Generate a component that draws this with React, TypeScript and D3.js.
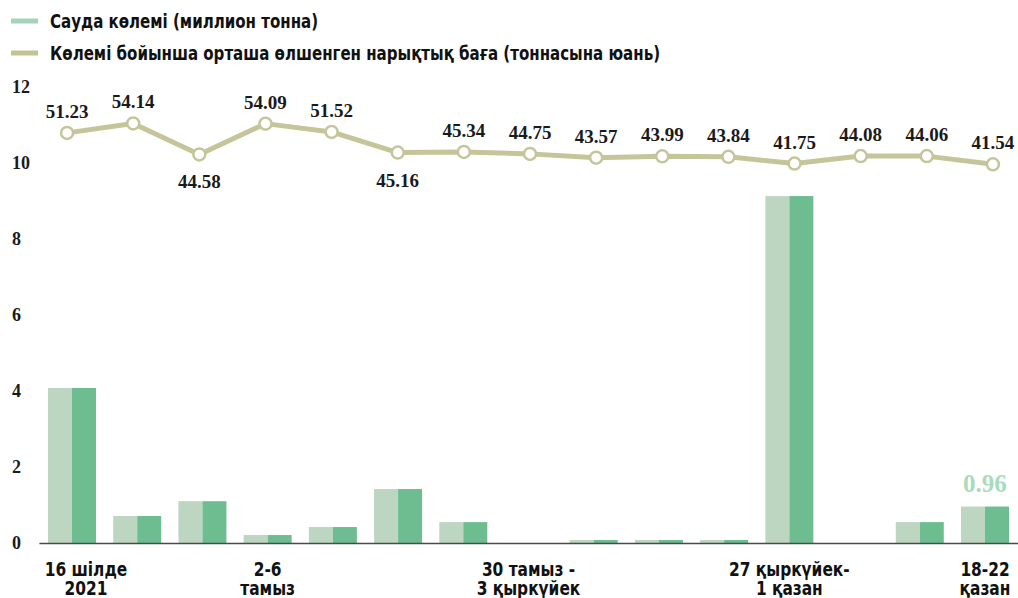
import { useRef, useEffect } from "react";
import * as d3 from "d3";

const weekLabels: string[][] = [
  ["16 шілде", "2021"], [], [], ["2-6", "тамыз"], [], [], [],
  ["30 тамыз -", "3 қыркүйек"], [], [], [], ["27 қыркүйек-", "1 қазан"], [], [], ["18-22", "қазан"],
];
const volume = [4.08, 0.71, 1.1, 0.21, 0.42, 1.42, 0.55, 0, 0.08, 0.08, 0.08, 9.13, 0, 0.55, 0.96];
const price = [51.23, 54.14, 44.58, 54.09, 51.52, 45.16, 45.34, 44.75, 43.57, 43.99, 43.84, 41.75, 44.08, 44.06, 41.54];
const priceBelow = [2, 5];
const yTicks = [0, 2, 4, 6, 8, 10, 12];
const legendItems = [
  { label: "Сауда көлемі (миллион тонна)", color: "#a3d4b8" },
  { label: "Көлемі бойынша орташа өлшенген нарықтық баға (тоннасына юань)", color: "#c2c48f" },
];

const SANS = "'Liberation Sans Narrow', 'DejaVu Sans Condensed', Roboto, sans-serif";
const SERIF = "'Liberation Serif', 'DejaVu Serif', serif";

// squeeze a sans text to mimic the condensed face of the original
function condense(sel: d3.Selection<SVGTextElement | SVGTSpanElement, any, any, any>, k: number) {
  sel.each(function () {
    const w = (this as SVGTextContentElement).getComputedTextLength();
    d3.select(this).attr("textLength", w * k).attr("lengthAdjust", "spacingAndGlyphs");
  });
}

export default function App() {
  const ref = useRef<SVGSVGElement>(null);

  useEffect(() => {
    if (!ref.current) return;
    const svg = d3.select(ref.current); svg.selectAll("*").remove();
    const W = 1018, H = 598;
    const top = 87, bottom = 543, left = 39.4, right = 1017.6;
    svg.attr("width", W).attr("height", H);
    const idx = volume.map((_d, i) => i);
    const x = d3.scalePoint<number>().domain(idx).range([left, right]).padding(0.5);
    const xl = d3.scalePoint<number>().domain(idx).range([34, 1026]).padding(0.5);
    const bw = x.step() * 0.736;
    const y = d3.scaleLinear().domain([0, 12]).range([bottom, top]);
    const y2 = d3.scaleLinear().domain([-75.4, 65.4]).range([bottom, top]);

    // y tick labels
    svg.selectAll(".yt").data(yTicks).join("text")
      .attr("x", 12).attr("y", d => y(d)).attr("dy", "0.35em")
      .attr("fill", "#1a1a1a").attr("font-size", "18px").attr("font-weight", 700).attr("font-family", SERIF)
      .text(d => d);

    // bars: two shades per week
    svg.selectAll(".bl").data(idx).join("rect")
      .attr("x", i => x(i)! - bw / 2).attr("width", bw / 2)
      .attr("y", i => y(volume[i])).attr("height", i => bottom - y(volume[i])).attr("fill", "#bdd6c2");
    svg.selectAll(".bd").data(idx).join("rect")
      .attr("x", i => x(i)!).attr("width", bw / 2)
      .attr("y", i => y(volume[i])).attr("height", i => bottom - y(volume[i])).attr("fill", "#6dbd90");

    svg.append("line").attr("x1", left).attr("x2", W).attr("y1", bottom + 0.5).attr("y2", bottom + 0.5)
      .attr("stroke", "#4a4a4a").attr("stroke-width", 1.5);

    const last = volume.length - 1;
    svg.append("text").attr("x", x(last)!).attr("y", y(volume[last]) - 15).attr("text-anchor", "middle")
      .attr("fill", "#a9dbbd").attr("font-size", "25px").attr("font-weight", 700).attr("font-family", SERIF)
      .text(volume[last].toFixed(2));

    // price line
    const line = d3.line<number>().x(i => xl(i)!).y(i => y2(price[i]));
    svg.append("path").datum(idx).attr("fill", "none").attr("stroke", "#c4c69a").attr("stroke-width", 5)
      .attr("stroke-linejoin", "round").attr("d", line);
    svg.selectAll(".pt").data(idx).join("circle")
      .attr("cx", i => xl(i)!).attr("cy", i => y2(price[i])).attr("r", 6)
      .attr("fill", "#fff").attr("stroke", "#c4c69a").attr("stroke-width", 2.5);
    svg.selectAll(".pl").data(idx).join("text")
      .attr("x", i => xl(i)!).attr("y", i => y2(price[i]) + (priceBelow.includes(i) ? 34 : -15))
      .attr("text-anchor", "middle").attr("fill", "#1a1a1a").attr("font-size", "19px").attr("font-weight", 700)
      .attr("font-family", SERIF).text(i => price[i].toFixed(2));

    // category labels, one text per line
    idx.filter(i => weekLabels[i].length).forEach(i => {
      const cx = x(i)! + (i === 0 ? 14 : 0);
      weekLabels[i].forEach((s, k) => {
        const t = svg.append("text").attr("x", cx).attr("y", 576 + k * 19)
          .attr("text-anchor", "middle").attr("fill", "#111").attr("font-size", "19px").attr("font-weight", 700)
          .attr("font-family", SANS).text(s);
        condense(t as any, 0.9);
      });
    });

    // legend
    legendItems.forEach((l, k) => {
      const ly = 21 + k * 32;
      svg.append("line").attr("x1", 11).attr("x2", 38).attr("y1", ly).attr("y2", ly)
        .attr("stroke", l.color).attr("stroke-width", 5);
      const t = svg.append("text").attr("x", 50).attr("y", ly).attr("dy", "0.35em").attr("fill", "#111")
        .attr("font-size", "19px").attr("font-weight", 700).attr("font-family", SANS).text(l.label);
      condense(t as any, 0.88);
    });
  }, []);

  return (
    <div style={{ position: "absolute", left: 0, top: 0, background: "#fff" }}>
      <svg ref={ref} style={{ display: "block" }} />
    </div>
  );
}
